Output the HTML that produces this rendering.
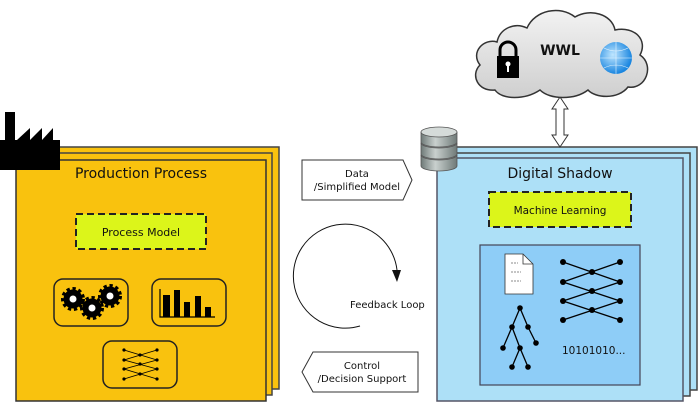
<!DOCTYPE html>
<html><head><meta charset="utf-8"><style>
html,body{margin:0;padding:0;background:#fff;}
svg{display:block;font-family:"DejaVu Sans","Liberation Sans",sans-serif;}
</style></head><body>
<svg width="698" height="402" viewBox="0 0 698 402" xmlns="http://www.w3.org/2000/svg">
<defs>
<radialGradient id="gl" cx="0.4" cy="0.4" r="0.6"><stop offset="0" stop-color="#bfe6ff"/><stop offset="1" stop-color="#1a86e0"/></radialGradient>
<linearGradient id="db" x1="0" x2="1"><stop offset="0" stop-color="#6f7a78"/><stop offset="0.4" stop-color="#c9d0ce"/><stop offset="1" stop-color="#6f7a78"/></linearGradient>
<linearGradient id="cl" x1="0" y1="0" x2="0" y2="1"><stop offset="0" stop-color="#f2f2f2"/><stop offset="1" stop-color="#cfcfcf"/></linearGradient>
</defs>
<rect x="28" y="147" width="251" height="242" fill="#f9c20e" stroke="#444" stroke-width="1.5"/>
<rect x="22" y="153" width="250" height="242" fill="#f9c20e" stroke="#444" stroke-width="1.5"/>
<rect x="16" y="160" width="250" height="241" fill="#f9c20e" stroke="#333" stroke-width="1.5"/>
<path d="M5 112H15V140H17L30 128V140L42 128V140L53 128V140H60V170H0V140H5Z" fill="#000"/>
<text x="141" y="178" font-size="14" text-anchor="middle" fill="#111">Production Process</text>
<rect x="76" y="214" width="130" height="35" fill="#dcf51a" stroke="#222" stroke-width="2" stroke-dasharray="7,4"/>
<text x="141" y="236" font-size="11" text-anchor="middle" fill="#111">Process Model</text>
<rect x="54" y="279" width="74" height="47" rx="9" fill="none" stroke="#222" stroke-width="1.5"/>
<rect x="152" y="279" width="74" height="47" rx="9" fill="none" stroke="#222" stroke-width="1.5"/>
<rect x="103" y="341" width="74" height="47" rx="9" fill="none" stroke="#222" stroke-width="1.5"/>
<g fill="#000">
<circle cx="73" cy="299" r="9.5" stroke="#000" stroke-width="5" stroke-dasharray="3,2.5"/>
<circle cx="92" cy="308" r="9.5" stroke="#000" stroke-width="5" stroke-dasharray="3,2.5"/>
<circle cx="110" cy="296" r="9.5" stroke="#000" stroke-width="5" stroke-dasharray="3,2.5"/>
</g>
<circle cx="73" cy="299" r="3.5" fill="#fff"/><circle cx="92" cy="308" r="3.5" fill="#fff"/><circle cx="110" cy="296" r="3.5" fill="#fff"/>
<path d="M160 289V317H215" stroke="#000" fill="none" stroke-width="1.2"/>
<g fill="#000"><rect x="163" y="295" width="7" height="22"/><rect x="174" y="290" width="6" height="27"/><rect x="184" y="302" width="6" height="15"/><rect x="195" y="296" width="6" height="21"/><rect x="205" y="307" width="6" height="10"/></g>
<g stroke="#000" stroke-width="0.8" fill="none">
<path d="M124 350L157 360M124 360L157 350M124 360L157 369M124 369L157 360M124 369L157 379M124 379L157 369"/>
</g>
<g fill="#000">
<circle cx="124" cy="350" r="1.6"/><circle cx="124" cy="360" r="1.6"/><circle cx="124" cy="369" r="1.6"/><circle cx="124" cy="379" r="1.6"/>
<circle cx="157" cy="350" r="1.6"/><circle cx="157" cy="360" r="1.6"/><circle cx="157" cy="369" r="1.6"/><circle cx="157" cy="379" r="1.6"/>
<circle cx="140" cy="355" r="1.6"/><circle cx="140" cy="364" r="1.6"/><circle cx="140" cy="374" r="1.6"/>
</g>
<path d="M302 160H403L412 180L403 200H302Z" fill="#fff" stroke="#333" stroke-width="1"/>
<text x="357" y="177" font-size="10" text-anchor="middle" fill="#111">Data</text>
<text x="357" y="190" font-size="10" text-anchor="middle" fill="#111">/Simplified Model</text>
<path d="M418 352H313L302 372L313 392H418Z" fill="#fff" stroke="#333" stroke-width="1"/>
<text x="362" y="369" font-size="10" text-anchor="middle" fill="#111">Control</text>
<text x="362" y="382" font-size="10" text-anchor="middle" fill="#111">/Decision Support</text>
<path d="M360 326A52 52 0 1 1 397 270" fill="none" stroke="#111" stroke-width="1"/>
<path d="M392 270L397 282L401 270Z" fill="#111"/>
<text x="350" y="308" font-size="10" fill="#111">Feedback Loop</text>
<rect x="449" y="147" width="248" height="243" fill="#ade0f7" stroke="#444" stroke-width="1.5"/>
<rect x="443" y="153" width="247" height="243" fill="#ade0f7" stroke="#444" stroke-width="1.5"/>
<rect x="437" y="158" width="246" height="243" fill="#ade0f7" stroke="#556" stroke-width="1.5"/>
<text x="560" y="178" font-size="14" text-anchor="middle" fill="#111">Digital Shadow</text>
<rect x="489" y="192" width="142" height="35" fill="#dcf51a" stroke="#222" stroke-width="2" stroke-dasharray="7,4"/>
<text x="560" y="214" font-size="10.5" text-anchor="middle" fill="#111">Machine Learning</text>
<rect x="480" y="245" width="160" height="140" fill="#8ecdf7" stroke="#445" stroke-width="1.2"/>
<path d="M505 254H523L533 264V294H505Z" fill="#fff" stroke="#333" stroke-width="0.8"/>
<path d="M523 254V264H533" fill="none" stroke="#333" stroke-width="0.8"/>
<path d="M511 263h7M511 272h10M511 281h10" stroke="#666" stroke-dasharray="2,1" stroke-width="0.8"/>
<g stroke="#000" stroke-width="1.3" fill="none">
<path d="M563 262L620 282M563 282L620 262M563 282L620 301M563 301L620 282M563 301L620 320M563 320L620 301"/>
<path d="M520 308L512 327L503 348M520 308L528 327L536 343M512 327L520 348L512 367M520 348L528 367"/>
</g>
<g fill="#000">
<circle cx="563" cy="262" r="3"/><circle cx="563" cy="282" r="3"/><circle cx="563" cy="301" r="3"/><circle cx="563" cy="320" r="3"/>
<circle cx="620" cy="262" r="3"/><circle cx="620" cy="282" r="3"/><circle cx="620" cy="301" r="3"/><circle cx="620" cy="320" r="3"/>
<circle cx="592" cy="272" r="3"/><circle cx="592" cy="291" r="3"/><circle cx="592" cy="310" r="3"/>
<circle cx="520" cy="308" r="2.8"/><circle cx="512" cy="327" r="2.8"/><circle cx="528" cy="327" r="2.8"/><circle cx="503" cy="348" r="2.8"/><circle cx="520" cy="348" r="2.8"/><circle cx="536" cy="343" r="2.8"/><circle cx="512" cy="367" r="2.8"/><circle cx="528" cy="367" r="2.8"/>
</g>
<text x="562" y="354" font-size="10.5" fill="#111">10101010...</text>
<g stroke="#555" stroke-width="0.8">
<path d="M421 155v11a18 5 0 0 0 36 0v-11" fill="url(#db)"/>
<ellipse cx="439" cy="155" rx="18" ry="5" fill="#9aa3a1"/>
<path d="M421 143v11a18 5 0 0 0 36 0v-11" fill="url(#db)"/>
<ellipse cx="439" cy="143" rx="18" ry="5" fill="#9aa3a1"/>
<path d="M421 132v10a18 5 0 0 0 36 0v-10" fill="url(#db)"/>
<ellipse cx="439" cy="132" rx="18" ry="5" fill="#d5dbd9"/>
</g>
<path d="M560 97L568 109H564V135H568L560 147L552 135H556V109H552Z" fill="#fff" stroke="#333" stroke-width="1"/>
<path d="M495 90C478 92 470 75 480 65C470 52 484 38 497 42C500 28 515 22 527 28C535 10 560 5 575 17C590 8 612 14 615 30C635 26 648 40 640 55C655 65 646 90 628 87C618 100 595 98 588 90C575 100 550 100 540 90C525 100 502 100 495 90Z" fill="url(#cl)" stroke="#333" stroke-width="1.5"/>
<path d="M500 57v-7a8 8 0 0 1 16 0v7" fill="none" stroke="#000" stroke-width="3"/>
<rect x="497" y="56" width="22" height="22" fill="#000"/>
<circle cx="508" cy="64" r="2.5" fill="#fff"/><rect x="507" y="64" width="2" height="8" fill="#fff"/>
<text x="560" y="55" font-size="14" font-weight="bold" text-anchor="middle" fill="#111">WWL</text>
<circle cx="616" cy="58" r="16" fill="url(#gl)"/>
<path d="M600 58h32M616 42v32M604 48q12 6 24 0M604 68q12-6 24 0" stroke="#e8f6ff" stroke-width="0.6" fill="none"/>
</svg>
</body></html>
